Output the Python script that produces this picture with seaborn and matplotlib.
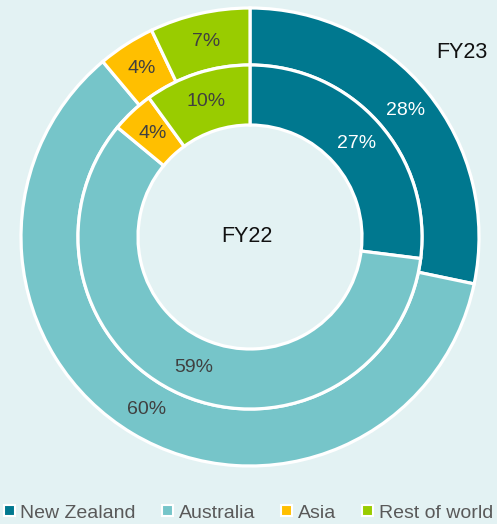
import matplotlib
matplotlib.use("Agg")
import matplotlib.pyplot as plt
from matplotlib.patches import Patch
import seaborn as sns

categories = ["New Zealand", "Australia", "Asia", "Rest of world"]
fy23_values = [28, 60, 4, 7]
fy22_values = [27, 59, 4, 10]
fy23_labels = ["28%", "60%", "4%", "7%"]
fy22_labels = ["27%", "59%", "4%", "10%"]
colors = ["#00788f", "#76c5c9", "#ffbf00", "#99cc00"]
label_colors = ["white", "#404040", "#404040", "#404040"]

sns.set_theme(style="white")
plt.rcParams["font.family"] = ["Liberation Sans", "DejaVu Sans"]
palette = sns.color_palette(colors)

bg = "#e3f2f3"
W, H = 497, 524
fig = plt.figure(figsize=(W / 100, H / 100), dpi=100, facecolor=bg)
cx, cy, R = 250, 237, 229
ax = fig.add_axes([(cx - R) / W, (H - cy - R) / H, 2 * R / W, 2 * R / H])
ax.set_facecolor(bg)


def make_pct(labels):
    it = iter(labels)
    return lambda p: next(it)


edge = dict(edgecolor="white", linewidth=2.3)
w_out, t_out, a_out = ax.pie(
    fy23_values, radius=1.0, colors=palette, startangle=90, counterclock=False,
    wedgeprops=dict(width=57 / R, **edge), autopct=make_pct(fy23_labels),
    pctdistance=200.5 / R, textprops=dict(fontsize=14))
r_in = 172 / R
w_in, t_in, a_in = ax.pie(
    fy22_values, radius=r_in, colors=palette, startangle=90, counterclock=False,
    wedgeprops=dict(width=60 / R, **edge), autopct=make_pct(fy22_labels),
    pctdistance=142 / 172, textprops=dict(fontsize=14))
for txts in (a_out, a_in):
    for t, c in zip(txts, label_colors):
        t.set_color(c)

ax.text((462 - cx) / R, (cy - 52) / R, "FY23", ha="center", va="center",
        fontsize=15.5, color="#111111")
ax.text((247 - cx) / R, 0, "FY22", ha="center", va="center",
        fontsize=15.5, color="#111111")
ax.set_xlim(-1, 1)
ax.set_ylim(-1, 1)
ax.set_aspect("equal")
ax.axis("off")

handles = [Patch(facecolor=c, edgecolor="white", linewidth=1.5) for c in palette]
leg = fig.legend(handles, categories, loc="center", bbox_to_anchor=(0.5, 1 - 513 / H),
                 ncol=4, frameon=False, fontsize=14, handlelength=0.55, handleheight=0.55,
                 handletextpad=0.3, columnspacing=1.35, labelcolor="#595959",
                 borderpad=0, borderaxespad=0)

fig.savefig("out.png", dpi=100, facecolor=bg)
